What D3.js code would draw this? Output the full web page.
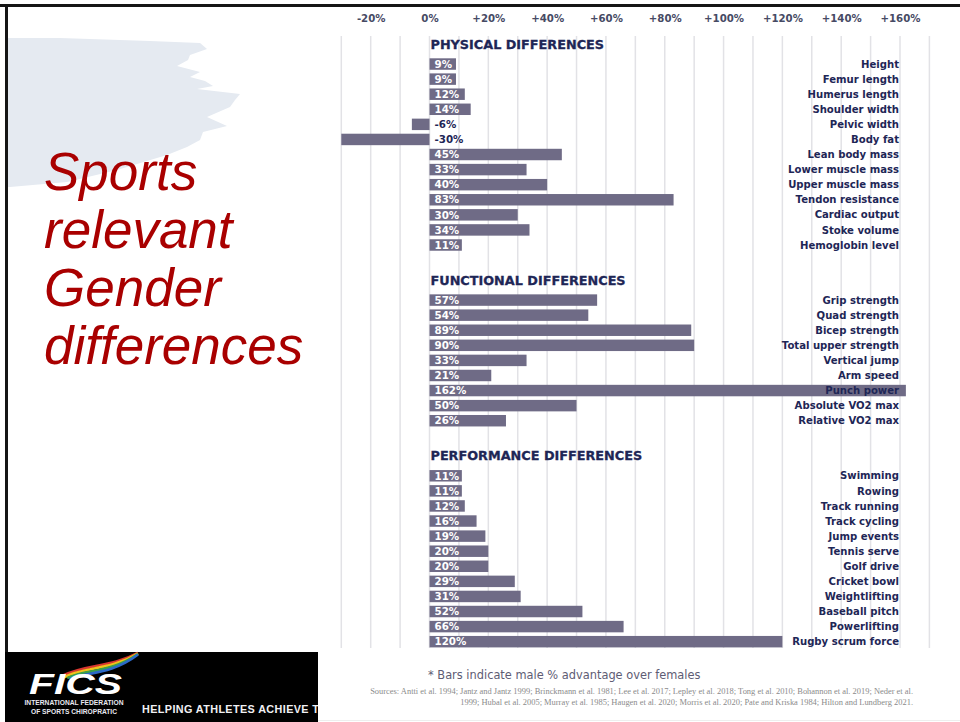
<!DOCTYPE html>
<html>
<head>
<meta charset="utf-8">
<script src="https://cdn.jsdelivr.net/npm/d3@7"></script>
<style>
  html, body { margin: 0; padding: 0; background: #ffffff; }
  svg { display: block; }
</style>
</head>
<body>
<svg id="chart" width="960" height="722"></svg>
<script>
// ---- Data ----------------------------------------------------------------
const sectionTitles = ["PHYSICAL DIFFERENCES", "FUNCTIONAL DIFFERENCES", "PERFORMANCE DIFFERENCES"];

const physicalCats = ["Height", "Femur length", "Humerus length", "Shoulder width", "Pelvic width",
  "Body fat", "Lean body mass", "Lower muscle mass", "Upper muscle mass", "Tendon resistance",
  "Cardiac output", "Stoke volume", "Hemoglobin level"];
const physicalVals = [9, 9, 12, 14, -6, -30, 45, 33, 40, 83, 30, 34, 11];

const functionalCats = ["Grip strength", "Quad strength", "Bicep strength", "Total upper strength",
  "Vertical jump", "Arm speed", "Punch power", "Absolute VO2 max", "Relative VO2 max"];
const functionalVals = [57, 54, 89, 90, 33, 21, 162, 50, 26];

const performanceCats = ["Swimming", "Rowing", "Track running", "Track cycling", "Jump events",
  "Tennis serve", "Golf drive", "Cricket bowl", "Weightlifting", "Baseball pitch", "Powerlifting",
  "Rugby scrum force"];
const performanceVals = [11, 11, 12, 16, 19, 20, 20, 29, 31, 52, 66, 120];

const tickValues = [-20, 0, 20, 40, 60, 80, 100, 120, 140, 160];
const gridValues = d3.range(-30, 171, 10);

const titleLines = ["Sports", "relevant", "Gender", "differences"];
const footnote = "* Bars indicate male % advantage over females";
const sourceLines = [
  "Sources: Antti et al. 1994; Jantz and Jantz 1999; Brinckmann et al. 1981; Lee et al. 2017; Lepley et al. 2018; Tong et al. 2010; Bohannon et al. 2019; Neder et al.",
  "1999; Hubal et al. 2005; Murray et al. 1985; Haugen et al. 2020; Morris et al. 2020; Pate and Kriska 1984; Hilton and Lundberg 2021."
];

// ---- Layout / style ------------------------------------------------------
const W = 960, H = 722;
const barColor = "#6f6b86";
const navy = "#1e2656";
const chartFont = "'DejaVu Sans', 'Open Sans', sans-serif";
const rowPitch = 15.08;
const firstRowTop = 56.5;
const sectionGap = 40;

const svg = d3.select("#chart");

// Slide background
svg.append("rect").attr("x", 0).attr("y", 0).attr("width", W).attr("height", H).attr("fill", "#fff");

// Brush-stroke backdrop behind the title
svg.append("path")
  .attr("d", "M8,38 L60,38 L150,41 L200,43 L207,49 L190,55 L188,60 L177,66 L200,72 L190,77 L205,81 " +
             "L213,86 L197,89 L240,94 L235,100 L230,107 L207,117 L227,126 L203,132 L200,140 L187,147 " +
             "L167,155 L117,170 L67,182 L10,187 L8,187 Z")
  .attr("fill", "#e5eaf1");

// Title text
svg.append("g")
  .selectAll("text")
  .data(titleLines)
  .join("text")
  .attr("x", 44)
  .attr("y", (d, i) => 190 + i * 58)
  .attr("font-family", "'Liberation Sans', Arial, sans-serif")
  .attr("font-style", "italic")
  .attr("font-size", 53)
  .attr("fill", "#a90000")
  .text(d => d);

// ---- Scales --------------------------------------------------------------
const x = d3.scaleLinear().domain([-30, 170]).range([341.3, 929.4]);

const sections = [
  { title: sectionTitles[0], cats: physicalCats, vals: physicalVals },
  { title: sectionTitles[1], cats: functionalCats, vals: functionalVals },
  { title: sectionTitles[2], cats: performanceCats, vals: performanceVals }
];
let rowTop = firstRowTop;
sections.forEach(s => {
  s.y = d3.scaleBand().domain(s.cats).range([rowTop, rowTop + s.cats.length * rowPitch]).paddingInner(0.24).paddingOuter(0.12);
  s.top = rowTop;
  rowTop += s.cats.length * rowPitch + sectionGap;
});

// Vertical gridlines
svg.append("g")
  .selectAll("line")
  .data(gridValues)
  .join("line")
  .attr("x1", d => x(d)).attr("x2", d => x(d))
  .attr("y1", 36).attr("y2", 648)
  .attr("stroke", "#e2e2e6")
  .attr("stroke-width", 1.5);

// Top axis
const axis = d3.axisTop(x)
  .tickValues(tickValues)
  .tickSize(0)
  .tickFormat(d => (d > 0 ? "+" : "") + d + "%");
const axisG = svg.append("g").attr("transform", "translate(0,22)").call(axis);
axisG.select(".domain").remove();
axisG.selectAll("text")
  .attr("dy", 0)
  .attr("y", 0)
  .attr("font-family", chartFont)
  .attr("font-weight", "bold")
  .attr("font-size", 10.2)
  .attr("fill", "#464a64");

// Sections
sections.forEach(s => {
  const g = svg.append("g");
  const rows = s.cats.map((c, i) => ({ cat: c, val: s.vals[i] }));

  g.append("text")
    .attr("x", x(0) + 1)
    .attr("y", s.top - 8)
    .attr("font-family", chartFont)
    .attr("font-weight", "bold")
    .attr("font-size", 12.8)
    .attr("stroke", navy)
    .attr("stroke-width", 0.3)
    .attr("fill", navy)
    .text(s.title);

  g.selectAll("rect.bar")
    .data(rows)
    .join("rect")
    .attr("class", "bar")
    .attr("x", d => x(Math.min(0, d.val)))
    .attr("width", d => Math.abs(x(d.val) - x(0)))
    .attr("y", d => s.y(d.cat))
    .attr("height", s.y.bandwidth())
    .attr("fill", barColor);

  g.selectAll("text.val")
    .data(rows)
    .join("text")
    .attr("class", "val")
    .attr("x", x(0) + 5)
    .attr("y", d => s.y(d.cat) + s.y.bandwidth() / 2)
    .attr("dy", "0.36em")
    .attr("font-family", chartFont)
    .attr("font-weight", "bold")
    .attr("font-size", 10.3)
    .attr("fill", d => d.val < 0 ? navy : "#ffffff")
    .text(d => d.val + "%");

  g.selectAll("text.cat")
    .data(rows)
    .join("text")
    .attr("class", "cat")
    .attr("x", 899)
    .attr("y", d => s.y(d.cat) + s.y.bandwidth() / 2)
    .attr("dy", "0.36em")
    .attr("text-anchor", "end")
    .attr("font-family", chartFont)
    .attr("font-weight", "bold")
    .attr("font-size", 10.1)
    .attr("fill", navy)
    .text(d => d.cat);
});

// Footnote and sources
svg.append("text")
  .attr("x", 428).attr("y", 679)
  .attr("font-family", chartFont)
  .attr("font-size", 11.4)
  .attr("fill", "#5e5c74")
  .text(footnote);

svg.append("g")
  .selectAll("text")
  .data(sourceLines)
  .join("text")
  .attr("x", 913)
  .attr("y", (d, i) => 694 + i * 11)
  .attr("text-anchor", "end")
  .attr("font-family", "'Liberation Serif', 'Times New Roman', serif")
  .attr("font-size", 8.45)
  .attr("fill", "#8a8a8a")
  .text(d => d);

// Frame border lines
svg.append("rect").attr("x", 0).attr("y", 4).attr("width", W).attr("height", 3).attr("fill", "#151515");
svg.append("rect").attr("x", 5).attr("y", 4).attr("width", 3).attr("height", 648).attr("fill", "#151515");
svg.append("line").attr("x1", 318).attr("x2", W).attr("y1", 720.5).attr("y2", 720.5)
  .attr("stroke", "#eeeeee").attr("stroke-width", 1);

// Logo banner
const logo = svg.append("g");
logo.append("clipPath").attr("id", "bannerClip")
  .append("rect").attr("x", 5).attr("y", 652).attr("width", 313).attr("height", 70);
logo.append("rect").attr("x", 5).attr("y", 652).attr("width", 313).attr("height", 70).attr("fill", "#000");

// Flag-like swoosh above the wordmark
const swooshColors = ["#d8372f", "#f1c21b", "#3aa14a", "#2c69c8"];
logo.append("g")
  .selectAll("path")
  .data(swooshColors)
  .join("path")
  .attr("d", (d, i) => {
    const o = i * 2.6;
    return `M${62 + o},${676 + o * 0.4} C${85},${664 + o} ${110},${668 + o} ${138},${653 + o * 0.2}`;
  })
  .attr("fill", "none")
  .attr("stroke", d => d)
  .attr("stroke-width", 2.6);

logo.append("text")
  .attr("x", 29).attr("y", 694)
  .attr("font-family", "'Liberation Sans', Arial, sans-serif")
  .attr("font-weight", "bold")
  .attr("font-style", "italic")
  .attr("font-size", 30)
  .attr("textLength", 93)
  .attr("lengthAdjust", "spacingAndGlyphs")
  .attr("fill", "#fff")
  .text("FICS");

logo.append("text")
  .attr("x", 74).attr("y", 704.5)
  .attr("text-anchor", "middle")
  .attr("font-family", "'Liberation Sans', Arial, sans-serif")
  .attr("font-weight", "bold")
  .attr("font-size", 7)
  .attr("textLength", 99)
  .attr("lengthAdjust", "spacingAndGlyphs")
  .attr("fill", "#e8e8f0")
  .text("INTERNATIONAL FEDERATION");
logo.append("text")
  .attr("x", 74).attr("y", 713.5)
  .attr("text-anchor", "middle")
  .attr("font-family", "'Liberation Sans', Arial, sans-serif")
  .attr("font-weight", "bold")
  .attr("font-size", 7)
  .attr("textLength", 86)
  .attr("lengthAdjust", "spacingAndGlyphs")
  .attr("fill", "#e8e8f0")
  .text("OF SPORTS CHIROPRATIC");

logo.append("text")
  .attr("clip-path", "url(#bannerClip)")
  .attr("x", 142).attr("y", 713)
  .attr("font-family", "'Liberation Sans', Arial, sans-serif")
  .attr("font-weight", "bold")
  .attr("font-size", 10.8)
  .attr("letter-spacing", 0.4)
  .attr("fill", "#f0f0f4")
  .text("HELPING ATHLETES ACHIEVE THEIR POTENTIAL");
</script>
</body>
</html>
